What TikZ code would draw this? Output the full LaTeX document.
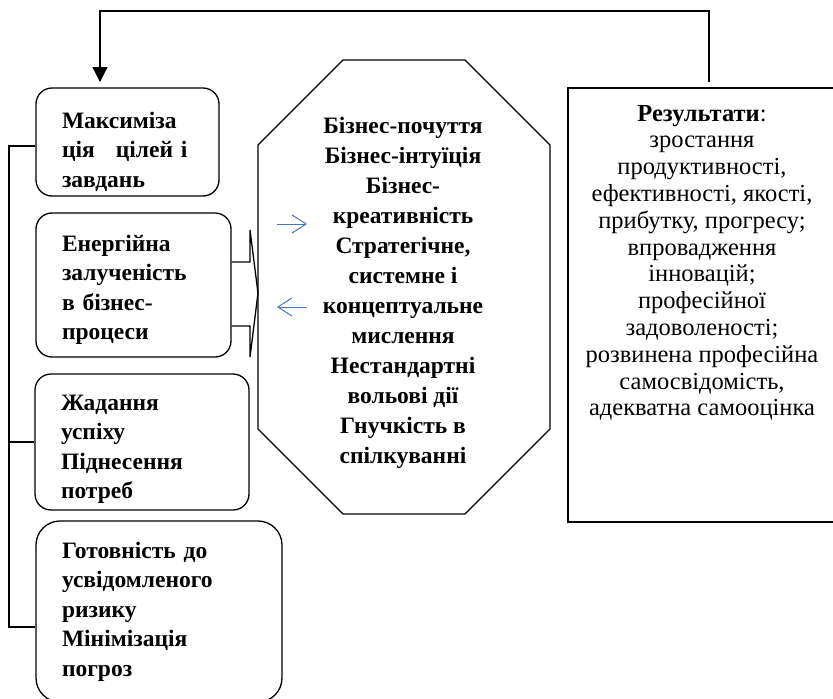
\documentclass[tikz,border=0pt]{standalone}
\usepackage{fontspec}
\setmainfont{Liberation Serif}
\usetikzlibrary{arrows.meta,positioning}
\definecolor{arrblue}{RGB}{70,118,190}

\begin{document}
\begin{tikzpicture}[
        x=1pt, y=-1pt,
        line width=1.3pt,
        font=\fontsize{23.5}{29.5}\selectfont\bfseries
    ]
    \tikzset{
        boxn/.style = {rectangle, rounded corners=16pt, draw=black, align=left, inner xsep=26pt, inner ysep=0pt},
        octn/.style = {align=center, inner sep=0pt, font=\fontsize{23.5}{30}\selectfont\bfseries},
        resbox/.style = {rectangle, draw=black, minimum width=268pt, minimum height=434pt},
        restext/.style = {align=center, inner sep=0pt, font=\fontsize{24.5}{26.8}\selectfont},
        edgen/.style = {-},
        edgeb/.style = {-{Straight Barb[length=14pt,width=18pt]}, line width=1pt, arrblue},
        edgef/.style = {-{Triangle[length=15pt,width=15pt]}},
    }
    \clip (0,0) rectangle (833,699);
    \node[boxn, minimum width=183pt, minimum height=108pt, text width=131pt] at (127.5,142) (max) {\rule{0pt}{36pt}Максиміза\\ ція\hspace{0.9em}цілей і\\ завдань};
    \node[boxn, minimum width=195pt, minimum height=144pt, text width=143pt] at (133.5,285) (energy) {\rule{0pt}{26pt}Енергійна\\ залученість\\ в бізнес-\\ процеси};
    \node[boxn, minimum width=214pt, minimum height=136pt, text width=162pt] at (142,442) (desire) {\rule{0pt}{30pt}Жадання\\ успіху\\ Піднесення\\ потреб};
    \node[boxn, rounded corners=24pt, minimum width=246pt, minimum height=181pt, text width=194pt] at (159,611.5) (risk) {Готовність до\\ усвідомленого\\ ризику\\ Мінімізація\\ погроз};
    %
    \draw[edgen] (343,60) -- (465,60) -- (550,145) -- (550,429) -- (465,514) -- (343,514) -- (258,429) -- (258,145) -- cycle;
    \node[octn] at (403,293) (oct) {Бізнес-почуття\\ Бізнес-інтуїція\\ Бізнес-\\ креативність\\ Стратегічне,\\ системне і\\ концептуальне\\ мислення\\ Нестандартні\\ вольові дії\\ Гнучкість в\\ спілкуванні};
    %
    \node[resbox] at (702,305) (res) {};
    \node[restext, below=17pt of res.north] (restxt) {\textbf{Результати}:\\ зростання\\ продуктивності,\\ ефективності, якості,\\ прибутку, прогресу;\\ впровадження\\ інновацій;\\ професійної\\ задоволеності;\\ розвинена професійна\\ самосвідомість,\\ адекватна самооцінка};
    %
    \coordinate (bus) at (9,146);
    \coordinate (fbout) at (709,82);
    \coordinate (fbin) at (100,82);
    \coordinate (ina) at (277,224);
    \coordinate (inb) at (307,224);
    \coordinate (outa) at (307,307);
    \coordinate (outb) at (277,307);
    %
    \draw[edgef] (fbout) -- (709,11) -- (100,11) -- (fbin);
    \draw[edgen] ([yshift=-4pt]max.west) -- (bus) -- (bus |- 0,627) -- ([yshift=-15.5pt]risk.west);
    \draw[edgen] (desire.west) -- (desire.west -| bus);
    \draw[edgen] (energy.east |- 0,262) -- (250,262) -- (250,230) -- (258,293) -- (250,357) -- (250,326) -- (energy.east |- 0,326);
    %
    \draw[edgeb] (ina) -- (inb);
    \draw[edgeb] (outa) -- (outb);
\end{tikzpicture}
\end{document}
